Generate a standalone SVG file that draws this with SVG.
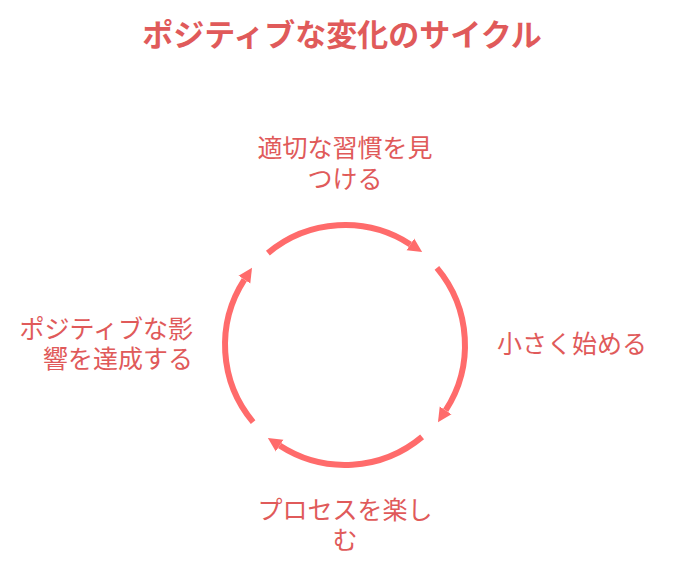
<svg xmlns="http://www.w3.org/2000/svg" width="675" height="570" viewBox="0 0 675 570">
  <style>
    .title { font-family: "Liberation Sans", "Noto Sans CJK JP", sans-serif; font-size: 31px; font-weight: bold; fill: #e05a5a; }
    .label { font-family: "Liberation Sans", "Noto Sans CJK JP", sans-serif; font-size: 25px; fill: #e05a5a; }
    .arc { fill: none; stroke: #ff6b6b; stroke-width: 6; marker-end: url(#arrow); }
  </style>
  <defs>
    <marker id="arrow" markerUnits="userSpaceOnUse" markerWidth="16" markerHeight="16" viewBox="0 -8 16 16" refX="0" refY="0" orient="auto">
      <path d="M0,-7 L14,0 L0,7 Z" fill="#ff6b6b"/>
    </marker>
  </defs>
  <rect width="675" height="570" fill="#ffffff"/>
  <text class="title" x="342" y="46" text-anchor="middle">ポジティブな変化のサイクル</text>

  <g id="connectors">
    <path class="arc" d="M267.9,253.1 A120,120 0 0 1 410.4,244.4"/>
    <path class="arc" d="M436.9,267.9 A120,120 0 0 1 445.6,410.4"/>
    <path class="arc" d="M422.1,436.9 A120,120 0 0 1 279.6,445.6"/>
    <path class="arc" d="M253.1,422.1 A120,120 0 0 1 244.4,279.6"/>
  </g>

  <g id="node-find-habit">
    <text class="label" x="345" y="157" text-anchor="middle">適切な習慣を見</text>
    <text class="label" x="345" y="188" text-anchor="middle">つける</text>
  </g>
  <g id="node-start-small">
    <text class="label" x="497" y="353">小さく始める</text>
  </g>
  <g id="node-enjoy-process">
    <text class="label" x="345" y="519" text-anchor="middle">プロセスを楽し</text>
    <text class="label" x="345" y="549" text-anchor="middle">む</text>
  </g>
  <g id="node-positive-impact">
    <text class="label" x="193" y="338" text-anchor="end">ポジティブな影</text>
    <text class="label" x="193" y="368" text-anchor="end">響を達成する</text>
  </g>
</svg>
